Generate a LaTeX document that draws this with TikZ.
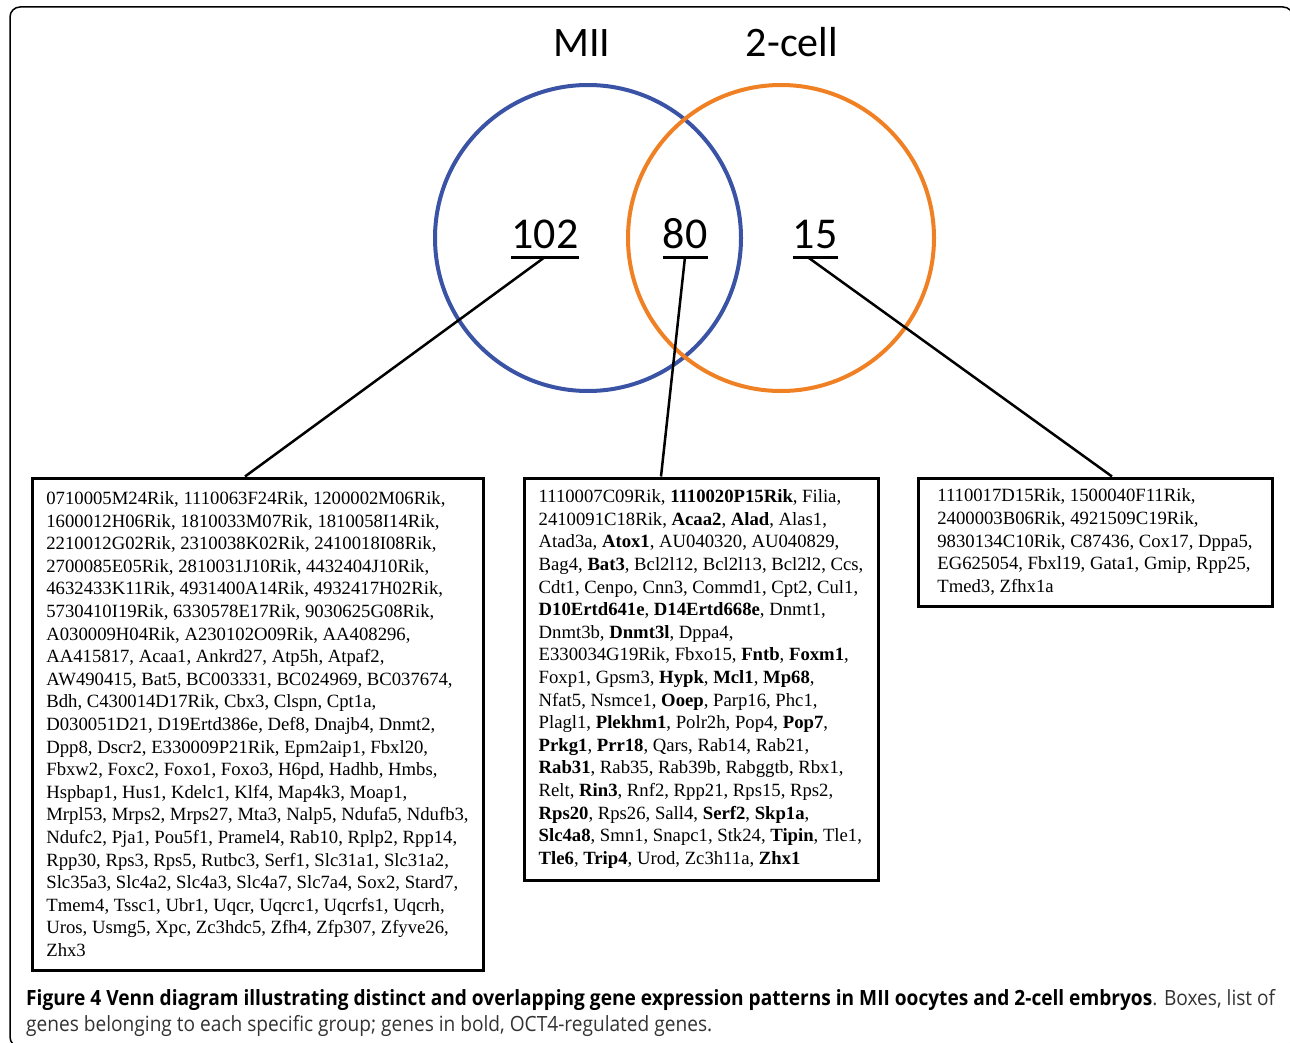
\documentclass[tikz,border=0pt]{standalone}
\usepackage{fontspec}
\setmainfont{Liberation Serif}
\newfontfamily\calibrifont{Carlito}
\newfontfamily\captionfont[FakeStretch=0.91]{Open Sans}
\usetikzlibrary{positioning}
\definecolor{miiblue}{RGB}{58,83,164}
\definecolor{cellorange}{RGB}{240,128,36}
\newcommand{\miicolor}[0]{miiblue}
\newcommand{\twocellcolor}[0]{cellorange}
\newcommand{\genefont}[0]{\fontsize{18.7}{22.6}\selectfont}

\tikzset{
    setcircle/.style={circle, line width=4pt, minimum size=306pt, inner sep=0pt},
    setname/.style={anchor=base, inner sep=0pt, font=\calibrifont\fontsize{42}{50}\selectfont},
    setcount/.style={anchor=base, inner xsep=0pt, inner ysep=8.5pt, font=\calibrifont\fontsize{44}{50}\selectfont},
    genelist/.style={rectangle, draw=black, line width=3pt, align=left, inner xsep=13pt, font=\genefont},
    link/.style={line width=2.5pt},
}

\begin{document}
\begin{tikzpicture}[x=1pt, y=-1pt]
    \useasboundingbox (0,0) rectangle (1290,1043);
    \draw[line width=1.5pt, rounded corners=10pt] (10,7) rectangle (1293,1047);

    % Venn circles
    \node[setcircle, draw=\miicolor] (mii) at (588,238) {};
    \node[setcircle, draw=\twocellcolor] (twocell) at (781,238) {};
    \node[setname] (mii-name) at (582,57) {MII};
    \node[setname] (twocell-name) at (792,57) {2-cell};

    % counts
    \node[setcount] (count-mii) at (545,248) {102};
    \node[setcount] (count-both) at (685,248) {80};
    \node[setcount] (count-twocell) at (815,248) {15};
    \draw[line width=3pt] (count-mii.south west) -- (count-mii.south east);
    \draw[line width=3pt] (count-both.south west) -- (count-both.south east);
    \draw[line width=3pt] (count-twocell.south west) -- (count-twocell.south east);

    % gene lists
    \node[genelist, minimum width=451pt, minimum height=492pt, anchor=north west]
        at (30.5,476.5) (list-mii) {0710005M24Rik, 1110063F24Rik, 1200002M06Rik,\\
        1600012H06Rik, 1810033M07Rik, 1810058I14Rik,\\
        2210012G02Rik, 2310038K02Rik, 2410018I08Rik,\\
        2700085E05Rik, 2810031J10Rik, 4432404J10Rik,\\
        4632433K11Rik, 4931400A14Rik, 4932417H02Rik,\\
        5730410I19Rik, 6330578E17Rik, 9030625G08Rik,\\
        A030009H04Rik, A230102O09Rik, AA408296,\\
        AA415817, Acaa1, Ankrd27, Atp5h, Atpaf2,\\
        AW490415, Bat5, BC003331, BC024969, BC037674,\\
        Bdh, C430014D17Rik, Cbx3, Clspn, Cpt1a,\\
        D030051D21, D19Ertd386e, Def8, Dnajb4, Dnmt2,\\
        Dpp8, Dscr2, E330009P21Rik, Epm2aip1, Fbxl20,\\
        Fbxw2, Foxc2, Foxo1, Foxo3, H6pd, Hadhb, Hmbs,\\
        Hspbap1, Hus1, Kdelc1, Klf4, Map4k3, Moap1,\\
        Mrpl53, Mrps2, Mrps27, Mta3, Nalp5, Ndufa5, Ndufb3,\\
        Ndufc2, Pja1, Pou5f1, Pramel4, Rab10, Rplp2, Rpp14,\\
        Rpp30, Rps3, Rps5, Rutbc3, Serf1, Slc31a1, Slc31a2,\\
        Slc35a3, Slc4a2, Slc4a3, Slc4a7, Slc7a4, Sox2, Stard7,\\
        Tmem4, Tssc1, Ubr1, Uqcr, Uqcrc1, Uqcrfs1, Uqcrh,\\
        Uros, Usmg5, Xpc, Zc3hdc5, Zfh4, Zfp307, Zfyve26,\\
        Zhx3};
    \node[genelist, minimum width=354pt, minimum height=402pt,
        right=38pt of list-mii.north east, anchor=north west]
        (list-both) {1110007C09Rik, \textbf{1110020P15Rik}, Filia,\\
        2410091C18Rik, \textbf{Acaa2}, \textbf{Alad}, Alas1,\\
        Atad3a, \textbf{Atox1}, AU040320, AU040829,\\
        Bag4, \textbf{Bat3}, Bcl2l12, Bcl2l13, Bcl2l2, Ccs,\\
        Cdt1, Cenpo, Cnn3, Commd1, Cpt2, Cul1,\\
        \textbf{D10Ertd641e}, \textbf{D14Ertd668e}, Dnmt1,\\
        Dnmt3b, \textbf{Dnmt3l}, Dppa4,\\
        E330034G19Rik, Fbxo15, \textbf{Fntb}, \textbf{Foxm1},\\
        Foxp1, Gpsm3, \textbf{Hypk}, \textbf{Mcl1}, \textbf{Mp68},\\
        Nfat5, Nsmce1, \textbf{Ooep}, Parp16, Phc1,\\
        Plagl1, \textbf{Plekhm1}, Polr2h, Pop4, \textbf{Pop7},\\
        \textbf{Prkg1}, \textbf{Prr18}, Qars, Rab14, Rab21,\\
        \textbf{Rab31}, Rab35, Rab39b, Rabggtb, Rbx1,\\
        Relt, \textbf{Rin3}, Rnf2, Rpp21, Rps15, Rps2,\\
        \textbf{Rps20}, Rps26, Sall4, \textbf{Serf2}, \textbf{Skp1a},\\
        \textbf{Slc4a8}, Smn1, Snapc1, Stk24, \textbf{Tipin}, Tle1,\\
        \textbf{Tle6}, \textbf{Trip4}, Urod, Zc3h11a, \textbf{Zhx1}};
    \node[genelist, minimum width=354pt, minimum height=128pt,
        right=37pt of list-both.north east, anchor=north west]
        (list-twocell) {1110017D15Rik, 1500040F11Rik,\\
        2400003B06Rik, 4921509C19Rik,\\
        9830134C10Rik, C87436, Cox17, Dppa5,\\
        EG625054, Fbxl19, Gata1, Gmip, Rpp25,\\
        Tmed3, Zfhx1a};

    % connectors
    \draw[link] (count-mii.south) -- ([xshift=-12.5pt]list-mii.north);
    \draw[link] (count-both.south) -- ([xshift=-40pt]list-both.north);
    \draw[link] ([xshift=-7.5pt]count-twocell.south) -- ([xshift=17pt]list-twocell.north);

    % caption
    \node[anchor=base west, inner sep=0pt, align=left, text=black!80,
        font=\captionfont\fontsize{21}{26}\selectfont] (caption) at (26,1031)
        {\textbf{\color{black}Figure 4 Venn diagram illustrating distinct and overlapping gene expression patterns in MII oocytes and 2-cell embryos}. Boxes, list of\\
        genes belonging to each specific group; genes in bold, OCT4-regulated genes.};
\end{tikzpicture}
\end{document}
